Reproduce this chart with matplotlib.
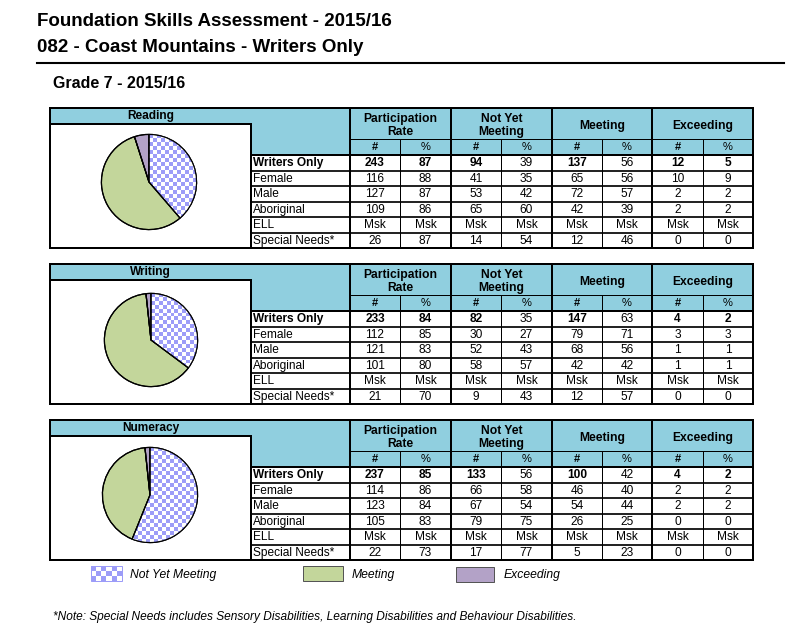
import numpy as np
import matplotlib
matplotlib.use("Agg")
import matplotlib.pyplot as plt
from matplotlib.patches import Rectangle

plt.rcParams['font.family'] = ['Liberation Sans', 'DejaVu Sans']

# ---- data ----
title_1 = "Foundation Skills Assessment - 2015/16"
title_2 = "082 - Coast Mountains - Writers Only"
grade_title = "Grade 7 - 2015/16"
footnote = "*Note: Special Needs includes Sensory Disabilities, Learning Disabilities and Behaviour Disabilities."

subjects = ["Reading", "Writing", "Numeracy"]
row_labels = ["Writers Only", "Female", "Male", "Aboriginal", "ELL", "Special Needs*"]
group_labels = ["Participation\nRate", "Not Yet\nMeeting", "Meeting", "Exceeding"]
sub_labels = ["#", "%"]
legend_labels = ["Not Yet Meeting", "Meeting", "Exceeding"]

# columns: part #, part %, NYM #, NYM %, Meeting #, Meeting %, Exceeding #, Exceeding %
reading_rows = [
	[243, 87, 94, 39, 137, 56, 12, 5],
	[116, 88, 41, 35, 65, 56, 10, 9],
	[127, 87, 53, 42, 72, 57, 2, 2],
	[109, 86, 65, 60, 42, 39, 2, 2],
	["Msk"] * 8,
	[26, 87, 14, 54, 12, 46, 0, 0],
]
writing_rows = [
	[233, 84, 82, 35, 147, 63, 4, 2],
	[112, 85, 30, 27, 79, 71, 3, 3],
	[121, 83, 52, 43, 68, 56, 1, 1],
	[101, 80, 58, 57, 42, 42, 1, 1],
	["Msk"] * 8,
	[21, 70, 9, 43, 12, 57, 0, 0],
]
numeracy_rows = [
	[237, 85, 133, 56, 100, 42, 4, 2],
	[114, 86, 66, 58, 46, 40, 2, 2],
	[123, 84, 67, 54, 54, 44, 2, 2],
	[105, 83, 79, 75, 26, 25, 0, 0],
	["Msk"] * 8,
	[22, 73, 17, 77, 5, 23, 0, 0],
]
subject_rows = [reading_rows, writing_rows, numeracy_rows]

# ---- style ----
W, H = 804, 635
header_blue = "#90CFDF"
green = "#C3D69B"
purple = "#B3A2C7"
check_blue = "#9C9CF8"
px = 0.72  # one pixel in points

block_tops = [108, 264, 420]
x_left, x_split, x_label_end = 50, 251, 350
col_edges = [350, 400, 451, 501, 552, 602, 652, 703, 753]
group_h, sub_h, row_h = 31, 16, 15.5
band_h = 16
# bold flags for the "Writers Only" row
bold_cols = [True, True, True, False, True, False, True, True]

fig = plt.figure(figsize=(W / 100, H / 100), dpi=100)
ax = fig.add_axes([0, 0, 1, 1])


def checker(n_x, n_y):
	return (np.indices((n_y, n_x)).sum(axis=0) % 2).astype(float)


check_cmap = matplotlib.colors.ListedColormap([check_blue, "white"])


def line(x0, x1, y0, y1, lw):
	ax.plot([x0, x1], [y0, y1], color="black", lw=lw, solid_capstyle="projecting", zorder=5)


def draw_pie(cx, cy, r, values):
	pax = fig.add_axes([(cx - r) / W, 1 - (cy + r) / H, 2 * r / W, 2 * r / H])
	wedges, _ = pax.pie(values, colors=["white", green, purple], startangle=90,
						counterclock=False, radius=1,
						wedgeprops=dict(edgecolor="black", linewidth=1.2 * px))
	n = int(round(2 * r / 4))
	im = pax.imshow(checker(n, n), cmap=check_cmap, extent=(-1, 1, -1, 1),
					interpolation="nearest", zorder=wedges[0].get_zorder() + 0.1)
	im.set_clip_path(wedges[0])
	for w in wedges:
		edge = matplotlib.patches.Wedge(w.center, w.r, w.theta1, w.theta2,
										fill=False, edgecolor="black", lw=1.2 * px, zorder=3)
		pax.add_patch(edge)
	pax.set_xlim(-1.03, 1.03)
	pax.set_ylim(-1.03, 1.03)
	pax.axis("off")


pie_centers = [(149, 182, 49), (151, 340, 48), (150, 495, 49)]

for s, (subject, rows, top) in enumerate(zip(subjects, subject_rows, block_tops)):
	head_bottom = top + group_h + sub_h
	bottom = head_bottom + row_h * len(rows)
	# backgrounds
	ax.add_patch(Rectangle((x_left, top), x_split - x_left, band_h, color=header_blue, lw=0))
	ax.add_patch(Rectangle((x_split, top), col_edges[-1] - x_split, group_h + sub_h, color=header_blue, lw=0))
	ax.text((x_left + x_split) / 2, top + band_h / 2 + 0.5, subject, ha="center", va="center",
			fontsize=8.6, fontweight="bold")

	# group headers
	for g, label in enumerate(group_labels):
		gx = (col_edges[2 * g] + col_edges[2 * g + 2]) / 2
		ax.text(gx, top + group_h / 2 + 2, label, ha="center", va="center", fontsize=8.7,
				fontweight="bold", linespacing=1.15)
		for k, sl in enumerate(sub_labels):
			cx = (col_edges[2 * g + k] + col_edges[2 * g + k + 1]) / 2
			ax.text(cx, top + group_h + sub_h / 2 + 0.5, sl, ha="center", va="center",
					fontsize=8, fontweight="bold" if sl == "#" else "normal")

	# rows
	for i, (label, vals) in enumerate(zip(row_labels, rows)):
		ry = head_bottom + row_h * (i + 0.5) + 0.5
		ax.text(x_split + 2, ry, label, ha="left", va="center", fontsize=8.6,
				fontweight="bold" if i == 0 else "normal")
		for c, v in enumerate(vals):
			cx = (col_edges[c] + col_edges[c + 1]) / 2
			ax.text(cx, ry, str(v), ha="center", va="center", fontsize=8.6,
					fontweight="bold" if (i == 0 and bold_cols[c]) else "normal")

	# grid lines
	thick, mid, thin = 2 * px, 1.7 * px, 1 * px
	line(x_left, col_edges[-1], top, top, thick)
	line(x_left, col_edges[-1], bottom, bottom, thick)
	line(x_left, x_left, top, bottom, thick)
	line(col_edges[-1], col_edges[-1], top, bottom, thick)
	line(x_left, x_split, top + band_h, top + band_h, thick)
	line(x_split, x_split, top + band_h, bottom, thick)
	line(col_edges[0], col_edges[-1], top + group_h, top + group_h, thin)
	line(x_split, col_edges[-1], head_bottom, head_bottom, thick)
	for i in range(1, len(rows)):
		yy = head_bottom + row_h * i
		line(x_split, col_edges[-1], yy, yy, mid)
	for k, xx in enumerate(col_edges[:-1]):
		if k % 2 == 0:
			line(xx, xx, top, bottom, thick)
		else:
			line(xx, xx, top + group_h, bottom, thin)

	cx, cy, r = pie_centers[s]
	draw_pie(cx, cy, r, [rows[0][2], rows[0][4], rows[0][6]])

# titles
ax.text(37, 22, title_1, ha="left", va="center", fontsize=13.5, fontweight="bold")
ax.text(37, 47, title_2, ha="left", va="center", fontsize=13.5, fontweight="bold")
line(37, 784, 63, 63, 1.5)
ax.text(53, 83, grade_title, ha="left", va="center", fontsize=11.5, fontweight="bold")

# legend
ax.imshow(checker(6, 3), cmap=check_cmap, extent=(91, 122, 581, 566),
		  interpolation="nearest", aspect="auto", zorder=4)
ax.add_patch(Rectangle((91, 566), 31, 15, fill=False, edgecolor="#9C9CF8", lw=px, zorder=5))
ax.text(130, 575, legend_labels[0], ha="left", va="center", fontsize=8.7, style="italic")
ax.add_patch(Rectangle((303, 566), 40, 15, facecolor=green, edgecolor="#555555", lw=px))
ax.text(352, 575, legend_labels[1], ha="left", va="center", fontsize=8.7, style="italic")
ax.add_patch(Rectangle((456, 567), 38, 15, facecolor=purple, edgecolor="#555555", lw=px))
ax.text(504, 575, legend_labels[2], ha="left", va="center", fontsize=8.7, style="italic")

ax.text(53, 617, footnote, ha="left", va="center", fontsize=8.6, style="italic")

ax.set_xlim(0, W)
ax.set_ylim(H, 0)
ax.axis("off")

fig.savefig("out.png", dpi=100)
